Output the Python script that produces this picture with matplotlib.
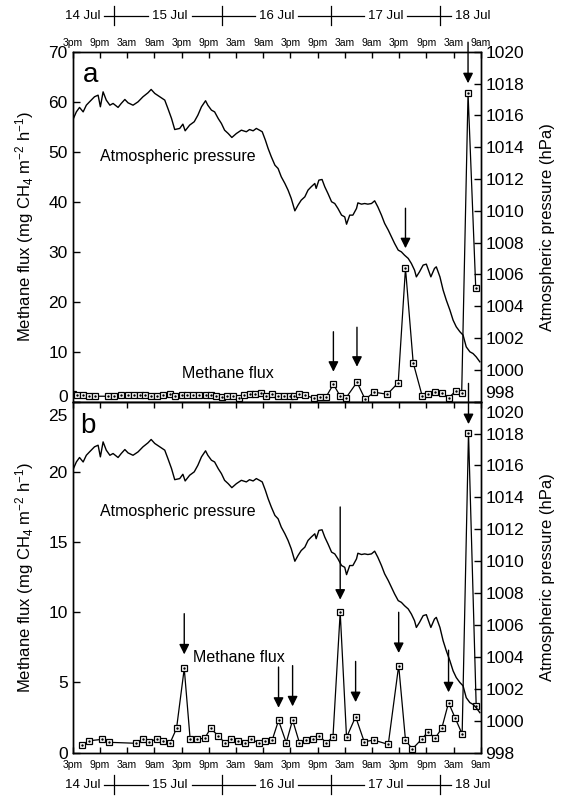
import numpy as np
import matplotlib
matplotlib.use('Agg')
import matplotlib.pyplot as plt
import matplotlib.transforms as mtransforms

plt.rcParams['font.family'] = ['Liberation Sans', 'DejaVu Sans']
plt.rcParams['mathtext.default'] = 'regular'

# time axis: hours since 3pm 14 Jul
time_ticks = np.arange(0, 91, 6)
time_labels = ['3pm', '9pm', '3am', '9am'] * 4
date_labels = ['14 Jul', '15 Jul', '16 Jul', '17 Jul', '18 Jul']
date_pos = [2.2, 21.5, 45.0, 69.0, 88.3]
midnights = [9, 33, 57, 81]

# atmospheric pressure (hPa), same record in both panels
pres_hours = [0.0, 0.8, 1.5, 2.3, 3.0, 3.7, 4.8, 5.6, 6.1, 6.7, 7.4, 8.2, 8.9, 10.0,
              10.7, 11.5, 12.2, 13.3, 14.4, 15.5, 16.6, 17.3, 18.1, 19.2, 20.3, 21.0,
              21.8, 22.5, 23.6, 24.3, 24.8, 25.8, 26.8, 27.6, 28.4, 29.3, 29.8, 30.6,
              31.3, 32.1, 32.8, 33.5, 34.3, 35.1, 36.1, 37.2, 38.3, 39.0, 39.8, 40.5,
              41.2, 41.8, 42.5, 43.1, 43.8, 44.6, 45.3, 46.0, 46.8, 47.5, 48.2, 49.0,
              49.7, 50.4, 51.2, 51.9, 52.6, 53.4, 53.7, 54.3, 55.0, 55.6, 56.3, 57.1,
              57.8, 58.5, 59.3, 60.0, 60.4, 61.1, 61.8, 62.6, 62.9, 63.7, 64.4, 65.1,
              65.9, 66.6, 67.3, 68.1, 68.8, 69.6, 70.3, 71.0, 71.8, 72.5, 73.2, 74.0,
              74.7, 75.4, 75.8, 76.5, 77.3, 78.0, 79.0, 79.8, 80.2, 81.0, 81.7, 82.4,
              83.2, 83.9, 84.6, 85.4, 86.1, 86.8, 87.6, 88.3, 89.0, 89.8]
pres_hpa = [1015.70, 1016.22, 1016.50, 1016.22, 1016.64, 1016.85, 1017.17, 1017.27,
            1016.54, 1017.48, 1016.96, 1016.64, 1016.75, 1016.50, 1016.75, 1017.00,
            1016.79, 1016.64, 1016.85, 1017.17, 1017.42, 1017.63, 1017.38, 1017.17,
            1016.96, 1016.43, 1015.80, 1015.11, 1015.18, 1015.45, 1015.03, 1015.39,
            1015.60, 1016.01, 1016.54, 1016.92, 1016.64, 1016.33, 1016.22, 1015.80,
            1015.49, 1015.07, 1014.86, 1014.61, 1014.86, 1015.07, 1014.97, 1015.11,
            1015.03, 1015.18, 1015.07, 1014.97, 1014.44, 1013.92, 1013.40, 1012.87,
            1012.66, 1012.14, 1011.72, 1011.30, 1010.78, 1010.00, 1010.36, 1010.67,
            1010.88, 1011.30, 1011.51, 1011.72, 1011.41, 1011.93, 1011.97, 1011.51,
            1011.09, 1010.57, 1010.46, 1010.15, 1009.73, 1009.62, 1009.16, 1009.73,
            1009.73, 1010.15, 1010.50, 1010.42, 1010.46, 1010.42, 1010.46, 1010.63,
            1010.25, 1009.73, 1009.21, 1008.79, 1008.37, 1007.95, 1007.53, 1007.42,
            1007.21, 1007.01, 1006.69, 1006.27, 1005.85, 1006.17, 1006.59, 1006.65,
            1005.85, 1006.38, 1006.48, 1005.85, 1005.02, 1004.39, 1003.76, 1003.13,
            1002.71, 1002.40, 1002.19, 1001.45, 1001.14, 1001.03, 1000.82, 1000.51]

# methane flux, panel a
flux_a_hours = [0.0, 1.0, 2.3, 3.7, 5.0, 7.8, 9.1, 10.7, 12.2, 13.5, 14.8, 16.0, 17.2,
                18.7, 19.9, 21.4, 22.6, 24.0, 25.3, 26.5, 27.8, 29.3, 30.6, 31.7, 32.9,
                34.1, 35.4, 36.6, 37.8, 39.0, 40.3, 41.5, 42.7, 44.0, 45.3, 46.6, 47.9,
                48.8, 50.0, 51.2, 53.2, 54.6, 55.9, 57.5, 59.0, 60.3, 62.7, 64.5, 66.5,
                69.4, 71.8, 73.4, 75.1, 77.1, 78.4, 79.9, 81.4, 83.0, 84.5, 85.8, 87.2,
                88.9]
flux_a = [1.6, 1.3, 1.3, 1.1, 1.1, 1.1, 1.1, 1.4, 1.3, 1.4, 1.3, 1.3, 1.2,
          1.1, 1.4, 1.6, 1.2, 1.4, 1.4, 1.4, 1.4, 1.4, 1.3, 1.1, 1.0,
          1.2, 1.1, 0.8, 1.4, 1.6, 1.6, 1.8, 1.1, 1.6, 1.2, 1.1, 1.2,
          1.2, 1.5, 1.3, 0.7, 1.0, 1.0, 3.5, 1.1, 0.8, 3.9, 0.5, 1.9,
          1.5, 3.8, 26.7, 7.8, 1.1, 1.5, 2.0, 1.7, 0.8, 2.2, 1.8, 61.7,
          22.7]

# methane flux, panel b
flux_b_hours = [2.0, 3.6, 6.5, 8.0, 14.0, 15.4, 16.9, 18.5, 20.0, 21.5, 22.9, 24.6,
                25.9, 27.4, 29.1, 30.4, 32.1, 33.5, 35.0, 36.5, 37.9, 39.4, 41.0, 42.5,
                44.0, 45.4, 47.1, 48.5, 50.0, 51.5, 52.9, 54.4, 55.9, 57.4, 59.0, 60.4,
                62.4, 64.3, 66.4, 69.6, 71.9, 73.4, 74.9, 77.0, 78.4, 79.9, 81.4, 82.9,
                84.4, 85.9, 87.3, 89.0]
flux_b = [0.55, 0.85, 0.95, 0.74, 0.67, 0.97, 0.78, 0.97, 0.83, 0.71, 1.73, 6.0,
          0.97, 0.97, 1.02, 1.73, 1.21, 0.71, 0.97, 0.83, 0.71, 0.95, 0.71, 0.85,
          0.9, 2.3, 0.71, 2.33, 0.71, 0.9, 0.97, 1.19, 0.71, 1.09, 10.0, 1.09,
          2.56, 0.78, 0.9, 0.59, 6.2, 0.9, 0.26, 0.97, 1.5, 1.02, 1.73, 3.56,
          2.44, 1.33, 22.8, 3.3]

# arrows marking flux peaks (hour, start, tip in flux units)
arrow_a_hours = [57.5, 62.7, 73.4, 87.2]
arrow_a_from = [14.0, 14.9, 38.7, 71.9]
arrow_a_to = [6.0, 7.0, 30.7, 63.7]
arrow_b_hours = [24.6, 45.4, 48.5, 59.0, 62.4, 71.9, 82.9, 87.3]
arrow_b_from = [9.9, 6.1, 6.2, 17.5, 6.5, 10.0, 7.3, 26.3]
arrow_b_to = [7.0, 3.2, 3.3, 10.9, 3.6, 7.1, 4.3, 23.4]

fig = plt.figure(figsize=(5.62, 7.96), dpi=100)
ax_a = fig.add_axes([0.1294, 0.4953, 0.726, 0.4397])
ax_b = fig.add_axes([0.1294, 0.0544, 0.726, 0.4410])


def setup_panel(ax, ymax, ystep, flux_h, flux, top):
    axp = ax.twinx()
    ax.plot(flux_h, flux, color='k', lw=0.9, marker='s', ms=4.5, mfc='white',
            mec='k', mew=0.9, zorder=3)
    ax.plot(flux_h, flux, ls='none', marker='.', ms=1.5, color='k', zorder=4)
    axp.plot(pres_hours, pres_hpa, color='k', lw=1.0)

    ax.set_xlim(0, 90)
    ax.set_ylim(0, ymax)
    axp.set_ylim(998, 1020)
    ax.set_yticks(np.arange(0, ymax + 1, ystep))
    axp.set_yticks(np.arange(998, 1021, 2))
    ax.set_xticks(time_ticks)
    ax.set_xticklabels(time_labels, fontsize=7.5)

    ax.tick_params(axis='y', direction='in', length=5, labelsize=12.5, width=1)
    axp.tick_params(axis='y', direction='in', length=5, labelsize=12.5, width=1)
    if top:
        ax.tick_params(axis='x', direction='in', length=4, width=1, top=True,
                       bottom=False, labeltop=True, labelbottom=False, pad=3)
    else:
        ax.tick_params(axis='x', direction='in', length=4, width=1, top=True,
                       bottom=True, labeltop=False, labelbottom=True, pad=5)
    for a in (ax, axp):
        for s in a.spines.values():
            s.set_linewidth(1.0)

    ax.set_ylabel('Methane flux (mg CH$_4$ m$^{-2}$ h$^{-1}$)', fontsize=12, labelpad=9)
    axp.set_ylabel('Atmospheric pressure (hPa)', fontsize=12, labelpad=11)

    # date row with lines and midnight markers
    y_date = 1.103 if top else -0.091
    y_tick = 0.028
    trans = ax.get_xaxis_transform()
    for d, lab in zip(date_pos, date_labels):
        ax.text(d, y_date, lab, transform=trans, ha='center', va='center',
                fontsize=9.5, clip_on=False)
    for i in range(len(date_pos) - 1):
        ax.plot([date_pos[i] + 4.8, date_pos[i + 1] - 4.8], [y_date, y_date],
                color='k', lw=0.9, transform=trans, clip_on=False)
    for m in midnights:
        ax.plot([m, m], [y_date - y_tick, y_date + y_tick], color='k', lw=0.9,
                transform=trans, clip_on=False)
    return axp


axp_a = setup_panel(ax_a, 70, 10, flux_a_hours, flux_a, True)
axp_b = setup_panel(ax_b, 25, 5, flux_b_hours, flux_b, False)


# shift the crowded tick labels where the panels meet (offset in pixels)
def nudge(label, dy):
    label.set_transform(label.get_transform() +
                        mtransforms.ScaledTranslation(0, dy / 100, fig.dpi_scale_trans))


nudge(ax_a.yaxis.get_major_ticks()[0].label1, 6)
nudge(axp_a.yaxis.get_major_ticks()[0].label2, 10)
nudge(ax_b.yaxis.get_major_ticks()[-1].label1, -13)
nudge(axp_b.yaxis.get_major_ticks()[-1].label2, -10)

# panel letters and annotations
ax_a.text(2.3, 65.3, 'a', fontsize=20, ha='left', va='center')
ax_b.text(1.6, 23.3, 'b', fontsize=20, ha='left', va='center')
ax_a.text(6.0, 49.1, 'Atmospheric pressure', fontsize=11.5, ha='left', va='center')
ax_b.text(6.0, 17.2, 'Atmospheric pressure', fontsize=11.5, ha='left', va='center')
ax_a.text(24.0, 5.7, 'Methane flux', fontsize=11.5, ha='left', va='center')
ax_b.text(26.5, 6.8, 'Methane flux', fontsize=11.5, ha='left', va='center')

for ax, hs, y0s, y1s in [(ax_a, arrow_a_hours, arrow_a_from, arrow_a_to),
                         (ax_b, arrow_b_hours, arrow_b_from, arrow_b_to)]:
    for h, y0, y1 in zip(hs, y0s, y1s):
        ax.annotate('', xy=(h, y1), xytext=(h, y0),
                    arrowprops=dict(arrowstyle='-|>', color='k', lw=1.0,
                                    mutation_scale=15, shrinkA=0, shrinkB=0),
                    annotation_clip=False)

fig.savefig('out.png', dpi=100)
